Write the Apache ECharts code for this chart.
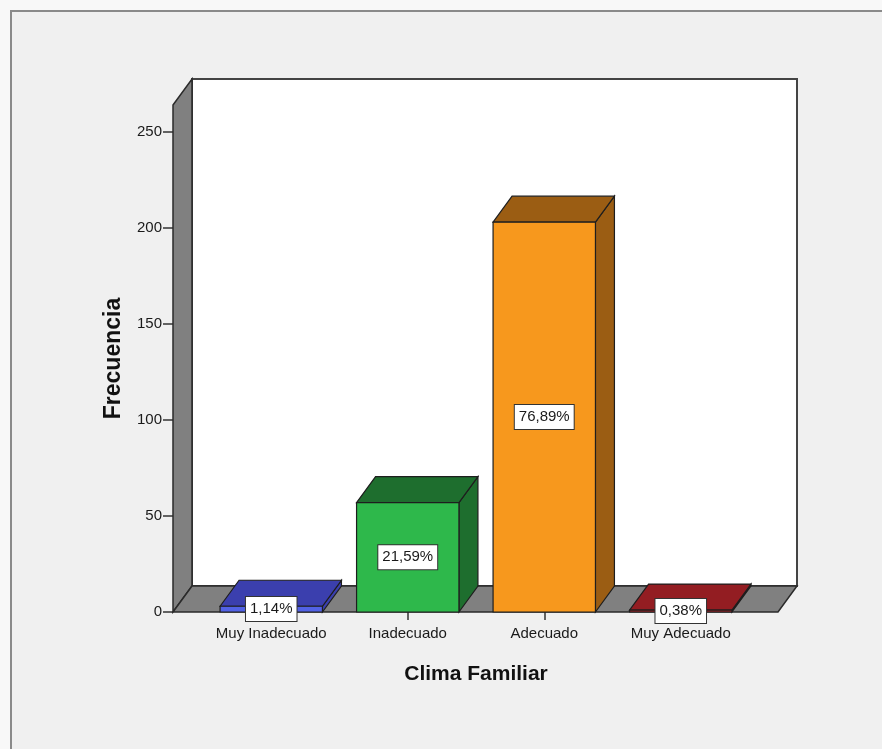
<!DOCTYPE html>
<html>
<head>
<meta charset="utf-8">
<script src="https://cdn.jsdelivr.net/npm/echarts@6/dist/echarts.min.js"></script>
<style>
  html, body { margin: 0; padding: 0; background: #f8f8f8; }
  #chart { width: 882px; height: 749px; }
</style>
</head>
<body>
<div id="chart"></div>
<script>
const categories = ['Muy Inadecuado', 'Inadecuado', 'Adecuado', 'Muy Adecuado'];
const frequencies = [3, 57, 203, 1];
const percentLabels = ['1,14%', '21,59%', '76,89%', '0,38%'];
const yTicks = [0, 50, 100, 150, 200, 250];
const yMax = 264;
const frontColors = ['#5262e6', '#2eb84b', '#f7981d', '#b0242a'];
const darkColors = ['#3b3fae', '#1e6e2e', '#9b5d13', '#931d22'];

const FONT = '"Liberation Sans", Arial, sans-serif';
const DX = 19, DY = -26;

const chart = echarts.init(document.getElementById('chart'), null, { renderer: 'canvas' });

const option = {
  backgroundColor: '#f8f8f8',
  animation: false,
  graphic: [{
    type: 'rect', z: -10, silent: true,
    shape: { x: 11, y: 11, width: 900, height: 800 },
    style: { fill: '#f0f0f0', stroke: '#8a8a8a', lineWidth: 2 }
  }],
  grid: [
    { left: 173, right: 104, top: 105, bottom: 137 },
    { left: 203, right: 133, top: 105, bottom: 137 }
  ],
  xAxis: [
    { gridIndex: 0, type: 'value', min: 0, max: 1, show: false },
    {
      gridIndex: 1, type: 'category', data: categories,
      axisLine: { show: false },
      axisTick: { show: true, interval: 0, alignWithLabel: true, length: 8, lineStyle: { color: '#333', width: 1.5 } },
      axisLabel: { interval: 0, color: '#1a1a1a', fontSize: 15, fontFamily: FONT, margin: 14 },
      name: 'Clima Familiar', nameLocation: 'middle', nameGap: 52,
      nameTextStyle: { color: '#111', fontSize: 21, fontWeight: 'bold', fontFamily: FONT }
    }
  ],
  yAxis: [
    {
      gridIndex: 0, type: 'value', min: 0, max: yMax,
      axisLine: { show: false },
      splitLine: { show: false },
      axisTick: { show: true, inside: false, length: 10, customValues: yTicks, lineStyle: { color: '#333', width: 1.5 } },
      axisLabel: { color: '#1a1a1a', fontSize: 15, fontFamily: FONT, margin: 11, customValues: yTicks },
      name: 'Frecuencia', nameLocation: 'middle', nameGap: 48,
      nameTextStyle: { color: '#111', fontSize: 23, fontWeight: 'bold', fontFamily: FONT }
    },
    { gridIndex: 1, type: 'value', min: 0, max: yMax, show: false }
  ],
  series: [
    {
      type: 'custom', xAxisIndex: 0, yAxisIndex: 0, z: 1, silent: true,
      data: [[0, 0]],
      renderItem: function (params, api) {
        const cs = params.coordSys;
        const x = cs.x, y = cs.y, w = cs.width, h = cs.height;
        const stroke = '#2a2a2a';
        return {
          type: 'group',
          children: [
            { type: 'rect', shape: { x: x + DX, y: y + DY, width: w, height: h },
              style: { fill: '#ffffff', stroke: '#444', lineWidth: 2 } },
            { type: 'polygon', shape: { points: [[x, y], [x + DX, y + DY], [x + DX, y + h + DY], [x, y + h]] },
              style: { fill: '#808080', stroke: stroke, lineWidth: 1.5 } },
            { type: 'polygon', shape: { points: [[x, y + h], [x + DX, y + h + DY], [x + w + DX, y + h + DY], [x + w, y + h]] },
              style: { fill: '#808080', stroke: stroke, lineWidth: 1.5 } }
          ]
        };
      }
    },
    {
      type: 'custom', xAxisIndex: 1, yAxisIndex: 1, z: 3, silent: true,
      data: frequencies.map((v, i) => [i, v]),
      renderItem: function (params, api) {
        const i = api.value(0);
        const v = api.value(1);
        const base = api.coord([i, 0]);
        const top = api.coord([i, v]);
        const bw = api.size([1, 0])[0] * 0.75;
        const x0 = base[0] - bw / 2, x1 = base[0] + bw / 2;
        const yb = base[1], yt = top[1];
        const idx = params.dataIndex;
        const stroke = '#1e1e1e';
        return {
          type: 'group',
          children: [
            { type: 'polygon', shape: { points: [[x1, yt], [x1 + DX, yt + DY], [x1 + DX, yb + DY], [x1, yb]] },
              style: { fill: darkColors[idx], stroke: stroke, lineWidth: 1.2 } },
            { type: 'polygon', shape: { points: [[x0, yt], [x0 + DX, yt + DY], [x1 + DX, yt + DY], [x1, yt]] },
              style: { fill: darkColors[idx], stroke: stroke, lineWidth: 1.2 } },
            { type: 'rect', shape: { x: x0, y: yt, width: bw, height: yb - yt },
              style: { fill: frontColors[idx], stroke: stroke, lineWidth: 1.2 } },
            { type: 'text', x: base[0], y: (yb + yt) / 2, z2: 20,
              style: {
                text: percentLabels[idx], fill: '#1a1a1a', font: '15px ' + FONT,
                align: 'center', verticalAlign: 'middle',
                backgroundColor: '#ffffff', borderColor: '#333', borderWidth: 1,
                padding: [5, 4, 4, 4]
              } }
          ]
        };
      }
    }
  ]
};

chart.setOption(option);
</script>
</body>
</html>
